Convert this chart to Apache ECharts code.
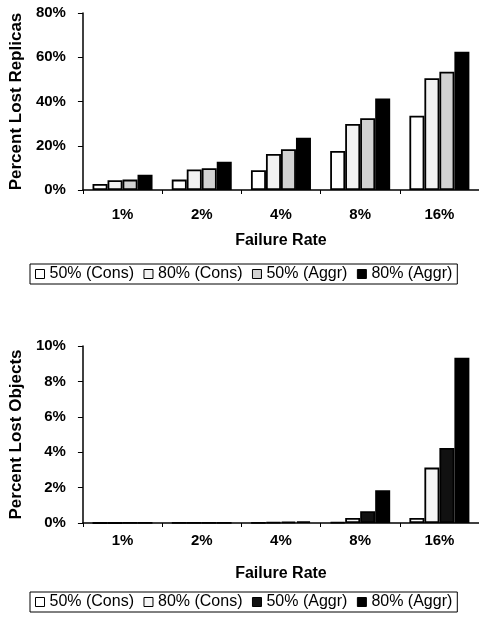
<!DOCTYPE html>
<html>
<head>
<meta charset="utf-8">
<script src="https://cdn.jsdelivr.net/npm/echarts@6/dist/echarts.min.js"></script>
<style>
  html, body { margin: 0; padding: 0; background: #fff; }
  #chart { width: 479px; height: 624px; }
</style>
</head>
<body>
<div id="chart"></div>
<script>
// Failure-rate categories on both x axes
const categories = ['1%', '2%', '4%', '8%', '16%'];
const seriesNames = ['50% (Cons)', '80% (Cons)', '50% (Aggr)', '80% (Aggr)'];

// Percent of replicas lost
const lostReplicas50Cons = [2.7, 4.7, 8.9, 17.6, 33.6];
const lostReplicas80Cons = [4.4, 9.3, 16.3, 29.8, 50.5];
const lostReplicas50Aggr = [4.7, 9.8, 18.4, 32.4, 53.5];
const lostReplicas80Aggr = [6.9, 12.8, 23.6, 41.3, 62.5];

// Percent of objects lost
const lostObjects50Cons = [0, 0.005, 0.02, 0.04, 0.28];
const lostObjects80Cons = [0, 0.01, 0.04, 0.28, 3.13];
const lostObjects50Aggr = [0.005, 0.02, 0.07, 0.66, 4.24];
const lostObjects80Aggr = [0.01, 0.02, 0.1, 1.85, 9.34];

// Value-axis ranges
const replicaAxis = { min: 0, max: 80, interval: 20 };
const objectAxis = { min: 0, max: 10, interval: 2 };

const FONT = '"Liberation Sans", Arial, Helvetica, sans-serif';
const topFills = ['#ffffff', '#f2f2f2', '#d2d2d2', '#000000'];
const bottomFills = ['#ffffff', '#f6f6f6', '#111111', '#000000'];

function xAxisFor(gridIndex, labelMargin) {
  return {
    type: 'category',
    gridIndex: gridIndex,
    data: categories,
    boundaryGap: true,
    axisLine: { show: true, lineStyle: { color: '#000', width: 1.5 } },
    axisTick: { show: true, length: 4, lineStyle: { color: '#000', width: 1 } },
    axisLabel: { color: '#000', fontFamily: FONT, fontSize: 15, fontWeight: 'bold', margin: labelMargin },
    name: 'Failure Rate',
    nameLocation: 'middle',
    nameGap: 43,
    nameTextStyle: { color: '#000', fontFamily: FONT, fontSize: 16, fontWeight: 'bold' }
  };
}

function yAxisFor(gridIndex, range, title) {
  return {
    type: 'value',
    gridIndex: gridIndex,
    min: range.min,
    max: range.max,
    interval: range.interval,
    axisLine: { show: true, lineStyle: { color: '#000', width: 1.5 } },
    axisTick: { show: true, length: 5, lineStyle: { color: '#000', width: 1 } },
    splitLine: { show: false },
    axisLabel: { formatter: '{value}%', color: '#000', fontFamily: FONT, fontSize: 15, fontWeight: 'bold', margin: 17 },
    name: title,
    nameLocation: 'middle',
    nameGap: 53,
    nameRotate: 90,
    nameTextStyle: { color: '#000', fontFamily: FONT, fontSize: 17, fontWeight: 'bold' }
  };
}

function barSeries(name, values, fill, axisIndex) {
  return {
    type: 'bar',
    name: name,
    data: values,
    xAxisIndex: axisIndex,
    yAxisIndex: axisIndex,
    barWidth: 15,
    barGap: '0%',
    itemStyle: { color: fill, borderColor: '#000', borderWidth: 1.8 },
    emphasis: { disabled: true },
    animation: false
  };
}

function legendFor(top, fills) {
  return {
    left: 30,
    top: top,
    orient: 'horizontal',
    icon: 'rect',
    itemWidth: 9,
    itemHeight: 9,
    itemGap: 9.5,
    padding: [2, 5, 2, 5],
    borderColor: '#000',
    borderWidth: 1,
    selectedMode: false,
    textStyle: { color: '#000', fontFamily: FONT, fontSize: 16 },
    data: seriesNames.map((n, i) => ({
      name: n,
      itemStyle: { color: fills[i], borderColor: '#000', borderWidth: 1 }
    }))
  };
}

const chart = echarts.init(document.getElementById('chart'), null, { renderer: 'canvas' });

chart.setOption({
  backgroundColor: '#fff',
  animation: false,
  grid: [
    { left: 81, top: 13, width: 402, height: 177 },
    { left: 81, top: 346, width: 402, height: 177 }
  ],
  xAxis: [xAxisFor(0, 17), xAxisFor(1, 10)],
  yAxis: [
    yAxisFor(0, replicaAxis, 'Percent Lost Replicas'),
    yAxisFor(1, objectAxis, 'Percent Lost Objects')
  ],
  legend: [legendFor(264, topFills), legendFor(592, bottomFills)],
  series: [
    barSeries(seriesNames[0], lostReplicas50Cons, topFills[0], 0),
    barSeries(seriesNames[1], lostReplicas80Cons, topFills[1], 0),
    barSeries(seriesNames[2], lostReplicas50Aggr, topFills[2], 0),
    barSeries(seriesNames[3], lostReplicas80Aggr, topFills[3], 0),
    barSeries(seriesNames[0], lostObjects50Cons, bottomFills[0], 1),
    barSeries(seriesNames[1], lostObjects80Cons, bottomFills[1], 1),
    barSeries(seriesNames[2], lostObjects50Aggr, bottomFills[2], 1),
    barSeries(seriesNames[3], lostObjects80Aggr, bottomFills[3], 1)
  ]
});
</script>
</body>
</html>
